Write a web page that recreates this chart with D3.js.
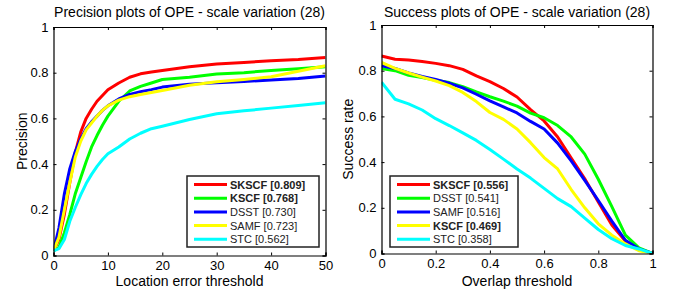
<!DOCTYPE html>
<html>
<head>
<meta charset="utf-8">
<script src="https://cdn.jsdelivr.net/npm/d3@7"></script>
<style>
  body { margin: 0; background: #fff; }
  svg { font-family: "Liberation Sans", Arial, sans-serif; }
</style>
</head>
<body>
<script>
// Width and height
var w = 677;
var h = 289;

// Precision plot (location error threshold)
var precThresholds = [0, 1, 2, 3, 4, 5, 6, 7, 8, 9, 10, 12, 14, 16, 18, 20, 25, 30, 35, 40, 45, 50];
var precSKSCF = [0.02, 0.07, 0.18, 0.32, 0.45, 0.54, 0.60, 0.64, 0.675, 0.70, 0.725, 0.755, 0.78, 0.795, 0.803, 0.81, 0.826, 0.838, 0.845, 0.852, 0.858, 0.867];
var precKSCF  = [0.02, 0.035, 0.10, 0.18, 0.27, 0.34, 0.41, 0.475, 0.525, 0.57, 0.61, 0.675, 0.72, 0.74, 0.755, 0.77, 0.78, 0.794, 0.80, 0.81, 0.817, 0.826];
var precDSST  = [0.02, 0.12, 0.27, 0.38, 0.455, 0.51, 0.555, 0.585, 0.61, 0.635, 0.655, 0.685, 0.705, 0.717, 0.726, 0.737, 0.75, 0.756, 0.762, 0.768, 0.775, 0.786];
var precSAMF  = [0.02, 0.08, 0.20, 0.32, 0.43, 0.50, 0.55, 0.58, 0.61, 0.635, 0.655, 0.68, 0.695, 0.705, 0.713, 0.722, 0.745, 0.76, 0.77, 0.782, 0.806, 0.83];
var precSTC   = [0.02, 0.03, 0.07, 0.15, 0.21, 0.265, 0.315, 0.355, 0.39, 0.42, 0.445, 0.475, 0.51, 0.535, 0.555, 0.566, 0.595, 0.62, 0.633, 0.645, 0.656, 0.669];
var precNames  = ["SKSCF [0.809]", "KSCF [0.768]", "DSST [0.730]", "SAMF [0.723]", "STC [0.562]"];
var precBold   = [true, true, false, false, false];

// Success plot (overlap threshold)
var succThresholds = [0, 0.05, 0.1, 0.15, 0.2, 0.25, 0.3, 0.35, 0.4, 0.45, 0.5, 0.55, 0.6, 0.65, 0.7, 0.75, 0.8, 0.85, 0.9, 0.95, 1];
var succSKSCF = [0.864, 0.85, 0.847, 0.84, 0.832, 0.822, 0.806, 0.777, 0.752, 0.722, 0.685, 0.63, 0.58, 0.51, 0.418, 0.327, 0.225, 0.125, 0.055, 0.02, 0];
var succDSST  = [0.81, 0.80, 0.78, 0.77, 0.758, 0.748, 0.73, 0.707, 0.686, 0.667, 0.645, 0.614, 0.594, 0.56, 0.51, 0.435, 0.325, 0.205, 0.08, 0.025, 0];
var succSAMF  = [0.822, 0.81, 0.79, 0.775, 0.762, 0.745, 0.725, 0.697, 0.668, 0.642, 0.615, 0.578, 0.545, 0.483, 0.405, 0.32, 0.232, 0.142, 0.058, 0.02, 0];
var succKSCF  = [0.836, 0.81, 0.79, 0.772, 0.755, 0.735, 0.705, 0.665, 0.617, 0.587, 0.545, 0.485, 0.42, 0.37, 0.28, 0.2, 0.13, 0.08, 0.042, 0.012, 0];
var succSTC   = [0.75, 0.675, 0.655, 0.628, 0.59, 0.56, 0.528, 0.495, 0.455, 0.413, 0.37, 0.33, 0.285, 0.24, 0.205, 0.155, 0.105, 0.065, 0.035, 0.02, 0];
var succNames  = ["SKSCF [0.556]", "DSST [0.541]", "SAMF [0.516]", "KSCF [0.469]", "STC [0.358]"];
var succBold   = [true, false, false, true, false];

var colors = ["#ff0000", "#00ff00", "#0000ff", "#ffff00", "#00ffff"];

var svg = d3.select("body")
    .append("svg")
    .attr("width", w)
    .attr("height", h);

var drawPanel = function(p) {
    var xScale = d3.scaleLinear().domain(p.xDomain).range([p.left, p.right]);
    var yScale = d3.scaleLinear().domain([0, 1]).range([p.bottom, p.top]);

    var g = svg.append("g");

    g.append("clipPath")
        .attr("id", p.id + "-clip")
        .append("rect")
        .attr("x", p.left)
        .attr("y", p.top)
        .attr("width", p.right - p.left)
        .attr("height", p.bottom - p.top);

    //Curves
    var line = d3.line()
        .x(function(d) { return xScale(d[0]); })
        .y(function(d) { return yScale(d[1]); });

    g.append("g")
        .attr("clip-path", "url(#" + p.id + "-clip)")
        .selectAll("path")
        .data(p.series)
        .enter()
        .append("path")
        .attr("d", function(s) {
            return line(p.thresholds.map(function(t, i) { return [t, s[i]]; }));
        })
        .attr("fill", "none")
        .attr("stroke", function(d, i) { return colors[i]; })
        .attr("stroke-width", 3)
        .attr("stroke-linejoin", "round");

    //Axes with inward ticks on all sides
    var xTicks = d3.range(0, 6).map(function(i) { return p.xDomain[0] + i * (p.xDomain[1] - p.xDomain[0]) / 5; });
    var yTicks = [0, 0.2, 0.4, 0.6, 0.8, 1];

    g.append("g")
        .attr("transform", "translate(0," + p.bottom + ")")
        .call(d3.axisBottom(xScale).tickValues(xTicks).tickSize(-3).tickPadding(5)
              .tickFormat(function(d) { return d3.format("~g")(d); }));
    g.append("g")
        .attr("transform", "translate(0," + p.top + ")")
        .call(d3.axisTop(xScale).tickValues(xTicks).tickSize(-3).tickFormat(""));
    g.append("g")
        .attr("transform", "translate(" + p.left + ",0)")
        .call(d3.axisLeft(yScale).tickValues(yTicks).tickSize(-3).tickPadding(5)
              .tickFormat(function(d) { return d3.format("~g")(d); }));
    g.append("g")
        .attr("transform", "translate(" + p.right + ",0)")
        .call(d3.axisRight(yScale).tickValues(yTicks).tickSize(-3).tickFormat(""));

    g.selectAll(".domain").attr("stroke", "#000").attr("stroke-width", 1.2);
    g.selectAll(".tick line").attr("stroke", "#000");
    g.selectAll(".tick text")
        .attr("fill", "#000")
        .attr("font-size", "13px")
        .attr("font-family", "Liberation Sans, Arial, sans-serif");

    //Titles
    g.append("text")
        .attr("x", (p.left + p.right) / 2)
        .attr("y", 17)
        .attr("text-anchor", "middle")
        .attr("font-size", "14px")
        .text(p.title);

    g.append("text")
        .attr("x", (p.left + p.right) / 2)
        .attr("y", 286)
        .attr("text-anchor", "middle")
        .attr("font-size", "14px")
        .text(p.xLabel);

    g.append("text")
        .attr("transform", "translate(" + p.yLabelX + "," + ((p.top + p.bottom) / 2) + ") rotate(-90)")
        .attr("text-anchor", "middle")
        .attr("font-size", "14px")
        .text(p.yLabel);

    //Legend
    var lg = g.append("g");
    lg.append("rect")
        .attr("x", p.legend[0])
        .attr("y", 176)
        .attr("width", p.legend[1])
        .attr("height", 71)
        .attr("fill", "#fff")
        .attr("stroke", "#222")
        .attr("stroke-width", 1.5);

    var rows = lg.selectAll(".row")
        .data(p.names)
        .enter()
        .append("g")
        .attr("transform", function(d, i) { return "translate(0," + (184.5 + i * 13.7) + ")"; });

    rows.append("line")
        .attr("x1", p.legend[0] + 7)
        .attr("x2", p.legend[0] + 40)
        .attr("stroke", function(d, i) { return colors[i]; })
        .attr("stroke-width", 3);

    rows.append("text")
        .attr("x", p.legend[0] + 43)
        .attr("y", 4)
        .attr("font-size", "11px")
        .attr("font-weight", function(d, i) { return p.bold[i] ? "bold" : "normal"; })
        .attr("fill", "#222")
        .text(function(d) { return d; });
};

drawPanel({
    id: "prec",
    left: 53.5, right: 325.5, top: 27, bottom: 255.5,
    xDomain: [0, 50],
    thresholds: precThresholds,
    series: [precSKSCF, precKSCF, precDSST, precSAMF, precSTC],
    names: precNames, bold: precBold,
    title: "Precision plots of OPE - scale variation (28)",
    xLabel: "Location error threshold",
    yLabel: "Precision", yLabelX: 27,
    legend: [187, 132]
});

drawPanel({
    id: "succ",
    left: 381.5, right: 652.5, top: 25, bottom: 253.5,
    xDomain: [0, 1],
    thresholds: succThresholds,
    series: [succSKSCF, succDSST, succSAMF, succKSCF, succSTC],
    names: succNames, bold: succBold,
    title: "Success plots of OPE - scale variation (28)",
    xLabel: "Overlap threshold",
    yLabel: "Success rate", yLabelX: 353,
    legend: [390, 128]
});
</script>
</body>
</html>
